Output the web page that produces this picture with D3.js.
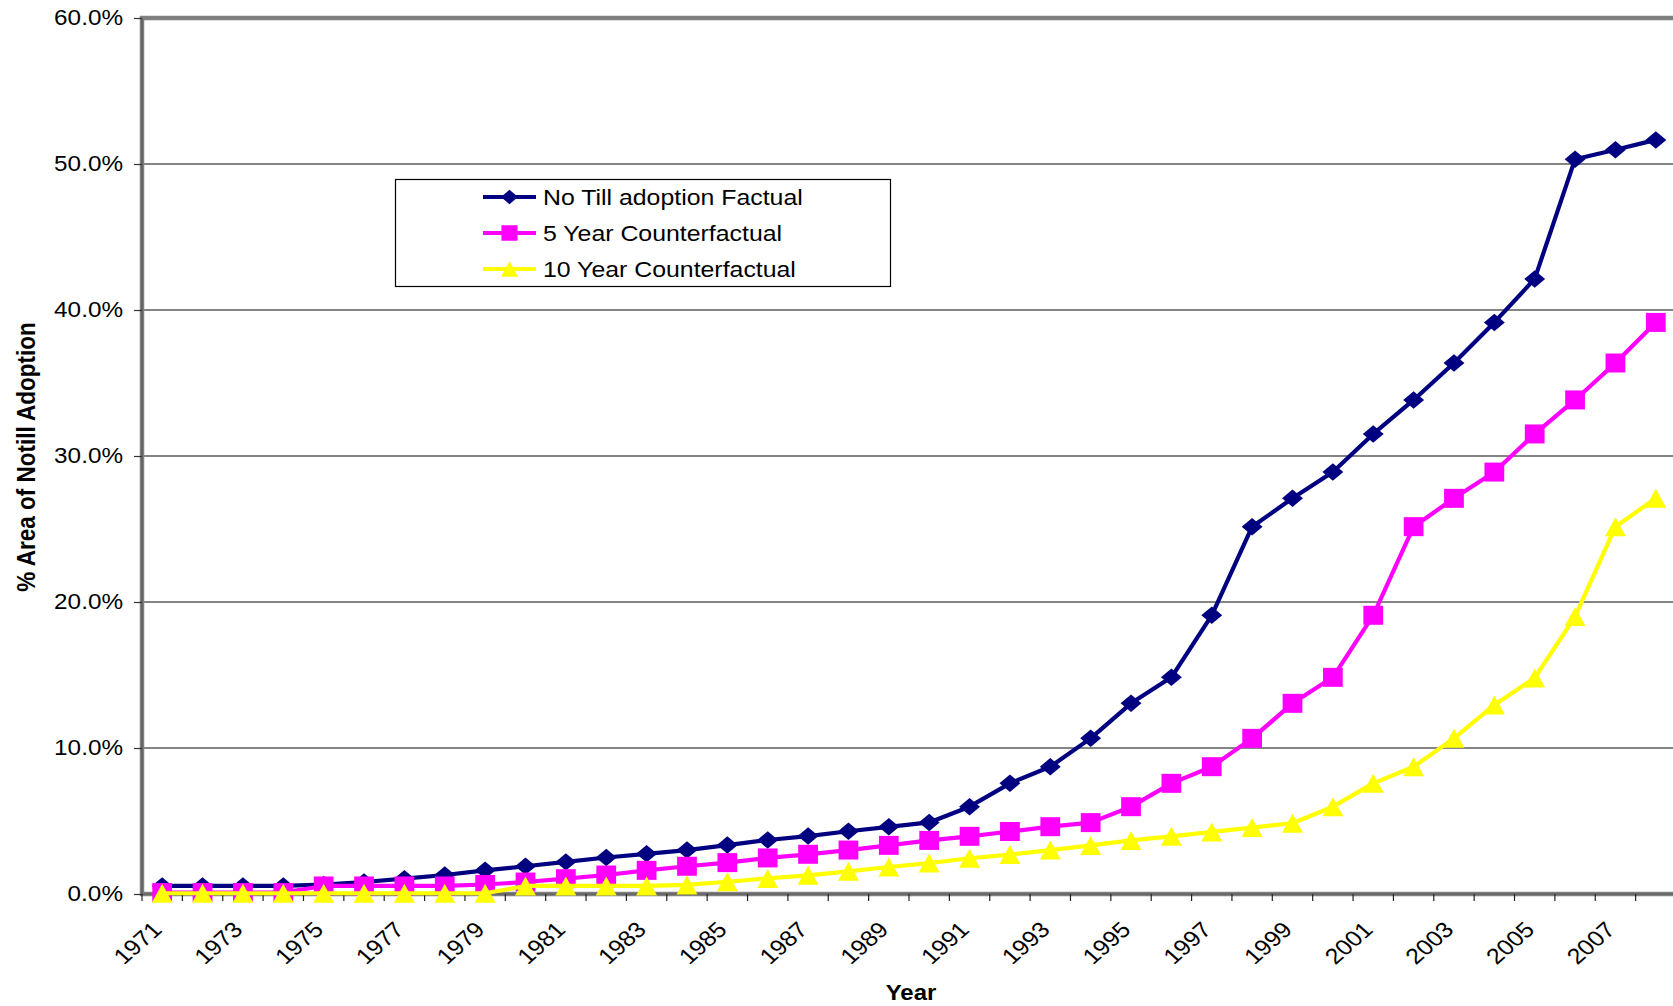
<!DOCTYPE html>
<html>
<head>
<meta charset="utf-8">
<script src="https://cdn.jsdelivr.net/npm/d3@7"></script>
<style>
  html, body { margin: 0; padding: 0; background: #fff; }
  svg { display: block; font-family: "Liberation Sans", Arial, sans-serif; }
</style>
</head>
<body>
<svg id="chart" width="1673" height="1006"></svg>
<script>
// ---------- DATA ----------
const years = [1971,1972,1973,1974,1975,1976,1977,1978,1979,1980,
               1981,1982,1983,1984,1985,1986,1987,1988,1989,1990,
               1991,1992,1993,1994,1995,1996,1997,1998,1999,2000,
               2001,2002,2003,2004,2005,2006,2007,2008];

// % area of no-till adoption (values in percent)
const factual = [0.55,0.55,0.55,0.55,0.65,0.82,1.05,1.30,1.62,1.90,
                 2.20,2.50,2.75,3.01,3.35,3.70,3.97,4.30,4.60,4.90,
                 5.98,7.58,8.72,10.66,13.06,14.84,19.09,25.16,27.10,28.90,
                 31.51,33.84,36.37,39.15,42.13,50.33,50.98,51.65];

const fiveYear = [0.10,0.10,0.10,0.10,0.55,0.55,0.55,0.55,0.65,0.82,
                  1.05,1.30,1.62,1.90,2.15,2.47,2.72,3.01,3.33,3.67,
                  3.95,4.28,4.61,4.89,5.98,7.58,8.72,10.66,13.06,14.84,
                  19.09,25.16,27.10,28.90,31.51,33.84,36.37,39.15];

const tenYear = [0.05,0.05,0.05,0.05,0.05,0.05,0.05,0.05,0.05,0.55,
                 0.55,0.55,0.55,0.62,0.84,1.07,1.28,1.55,1.85,2.12,
                 2.45,2.70,3.01,3.33,3.67,3.95,4.25,4.55,4.85,5.98,
                 7.58,8.72,10.66,12.95,14.80,19.00,25.16,27.10];

const seriesNames = ["No Till adoption Factual", "5 Year Counterfactual", "10 Year Counterfactual"];
const seriesColors = ["#000080", "#FF00FF", "#FFFF00"];
const seriesMarkers = ["diamond", "square", "triangle"];

const xTickLabels = ["1971","1973","1975","1977","1979","1981","1983","1985","1987","1989",
                     "1991","1993","1995","1997","1999","2001","2003","2005","2007"];
const yTickValues = [0, 10, 20, 30, 40, 50, 60];

const xTitle = "Year";
const yTitle = "% Area of Notill Adoption";

// ---------- LAYOUT ----------
const SX = 1.13; // horizontal stretch of the original picture's text
const svg = d3.select("#chart");
const plot = { left: 142, top: 18, right: 1676, bottom: 894 };

const x = d3.scaleBand().domain(years).range([plot.left, plot.right]).padding(0);
const y = d3.scaleLinear().domain([0, 60]).range([plot.bottom, plot.top]);
const cx = d => x(d) + x.bandwidth() / 2;

// gridlines
svg.append("g").selectAll("line").data(yTickValues.filter(v => v > 0 && v < 60)).join("line")
  .attr("x1", plot.left).attr("x2", plot.right)
  .attr("y1", d => y(d)).attr("y2", d => y(d))
  .attr("stroke", "#858585").attr("stroke-width", 2);

// plot area frame (Excel-like thick gray)
svg.append("rect")
  .attr("x", plot.left).attr("y", plot.top)
  .attr("width", plot.right - plot.left).attr("height", plot.bottom - plot.top)
  .attr("fill", "none").attr("stroke", "#808080").attr("stroke-width", 4.5);
svg.append("line").attr("x1", plot.left).attr("x2", plot.left)
  .attr("y1", plot.top).attr("y2", plot.bottom).attr("stroke", "#555").attr("stroke-width", 1.2);
svg.append("line").attr("x1", plot.left).attr("x2", plot.right)
  .attr("y1", plot.bottom).attr("y2", plot.bottom).attr("stroke", "#555").attr("stroke-width", 1.2);

// Y axis
const yAxis = d3.axisLeft(y).tickValues(yTickValues)
  .tickFormat(d => d.toFixed(1) + "%").tickSize(8).tickPadding(12);
const gy = svg.append("g").attr("transform", `translate(${plot.left},0)`).call(yAxis);
gy.select(".domain").remove();
gy.selectAll(".tick line").attr("stroke", "#333").attr("stroke-width", 1.2);
gy.selectAll(".tick text").attr("font-size", 21.5).attr("fill", "#000")
  .attr("font-family", "'Liberation Sans', Arial, sans-serif")
  .attr("x", 0).attr("transform", `translate(-19,0) scale(${SX},1)`);

// X axis tick marks between categories
const edges = years.map(d => x(d)).concat([plot.right]);
svg.append("g").selectAll("line").data(edges).join("line")
  .attr("x1", d => d).attr("x2", d => d)
  .attr("y1", plot.bottom).attr("y2", plot.bottom + 7)
  .attr("stroke", "#222").attr("stroke-width", 1.2);

// X axis labels (rotated)
svg.append("g").selectAll("text").data(xTickLabels).join("text")
  .attr("transform", d => `translate(${cx(+d) + 1},${plot.bottom + 37}) scale(${SX},1) rotate(-45)`)
  .attr("text-anchor", "end")
  .attr("font-size", 22).attr("fill", "#000")
  .text(d => d);

// axis titles
svg.append("text").attr("transform", `translate(911,1000) scale(1.09,1)`).attr("text-anchor", "middle")
  .attr("font-size", 22).attr("font-weight", "bold").text(xTitle);
svg.append("text").attr("transform", `translate(35,457) scale(${SX},1) rotate(-90)`).attr("text-anchor", "middle")
  .attr("font-size", 22.5).attr("font-weight", "bold").text(yTitle);

// ---------- SERIES ----------
function markerPath(type, s) {
  const h = s / 2;
  if (type === "diamond") return `M0,${-h * 0.92}L${h * 1.1},0L0,${h * 0.92}L${-h * 1.1},0Z`;
  if (type === "square") return `M${-h * 1.04},${-h}H${h * 1.04}V${h}H${-h * 1.04}Z`;
  return `M0,${-h}L${h * 1.1},${h}L${-h * 1.1},${h}Z`;
}

const allSeries = [factual, fiveYear, tenYear];
const line = d3.line().x((d, i) => cx(years[i])).y(d => y(d));

allSeries.forEach((vals, si) => {
  const g = svg.append("g");
  g.append("path").datum(vals).attr("d", line)
    .attr("fill", "none").attr("stroke", seriesColors[si]).attr("stroke-width", 4.2)
    .attr("stroke-linejoin", "round");
  g.selectAll("path.m").data(vals).join("path").attr("class", "m")
    .attr("transform", (d, i) => `translate(${cx(years[i])},${y(d)})`)
    .attr("d", markerPath(seriesMarkers[si], 19))
    .attr("fill", seriesColors[si]);
});

// ---------- LEGEND ----------
const lg = svg.append("g");
lg.append("rect").attr("x", 395.5).attr("y", 179.5).attr("width", 495).attr("height", 107)
  .attr("fill", "#fff").attr("stroke", "#000").attr("stroke-width", 1.2);
seriesNames.forEach((name, i) => {
  const yy = 197 + i * 36;
  lg.append("line").attr("x1", 483).attr("x2", 536).attr("y1", yy).attr("y2", yy)
    .attr("stroke", seriesColors[i]).attr("stroke-width", 4);
  lg.append("path").attr("transform", `translate(509.5,${yy})`)
    .attr("d", markerPath(seriesMarkers[i], 15.5)).attr("fill", seriesColors[i]);
  lg.append("text").attr("transform", `translate(543,${yy + 8}) scale(${SX},1)`)
    .attr("font-size", 22).attr("fill", "#000").text(name);
});
</script>
</body>
</html>
